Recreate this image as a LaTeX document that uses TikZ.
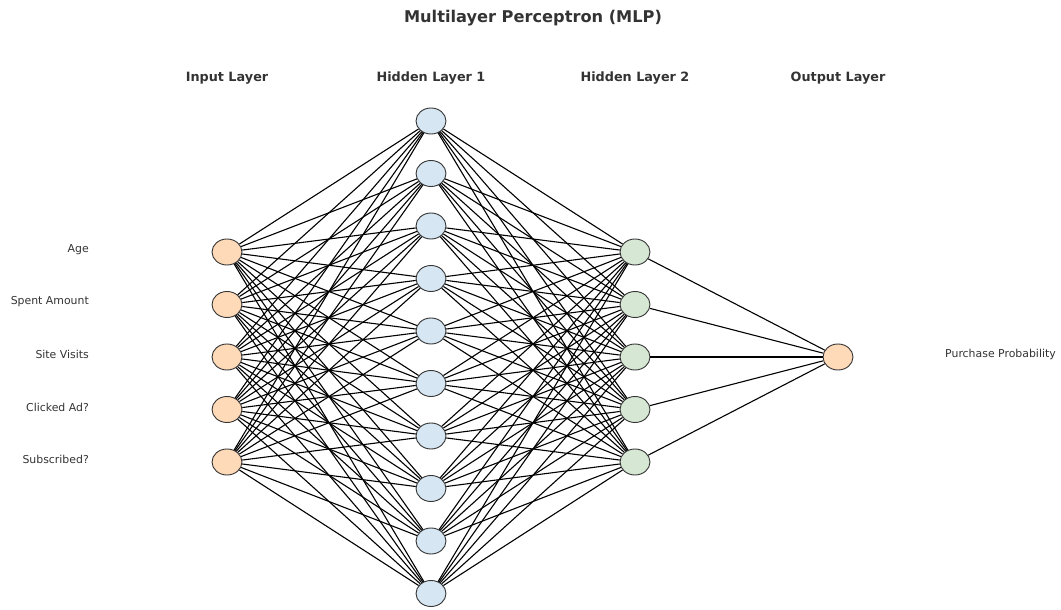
\documentclass[tikz,border=0pt]{standalone}
\usepackage{fontspec}
\setmainfont{DejaVu Sans}
\usetikzlibrary{shapes.geometric}
\definecolor{inpeach}{RGB}{255,218,185}
\definecolor{hidblue}{RGB}{214,230,242}
\definecolor{hidgreen}{RGB}{214,232,212}
\definecolor{textgray}{RGB}{51,51,51}
\tikzset{
  neuron/.style={ellipse, draw=black!80, line width=0.9pt, minimum width=30pt, minimum height=26pt, inner sep=0pt},
  innode/.style={neuron, fill=inpeach},
  h1node/.style={neuron, fill=hidblue},
  h2node/.style={neuron, fill=hidgreen},
  outnode/.style={neuron, fill=inpeach},
  wire/.style={draw=black, line width=1.1pt},
  heading/.style={font=\fontsize{12.8}{15}\selectfont\bfseries, text=textgray},
  feat/.style={font=\fontsize{10.9}{13}\selectfont, text=textgray, inner sep=0pt},
}
\begin{document}
\begin{tikzpicture}[x=1pt,y=-1pt]
\useasboundingbox (0,0) rectangle (1061,610);
% title and layer headings
\node[font=\fontsize{16.2}{19}\selectfont\bfseries, text=textgray] (title) at (533,18.5) {Multilayer Perceptron (MLP)};
\node[heading] (hin) at (227,78.5) {Input Layer};
\node[heading] (hh1) at (431,78.5) {Hidden Layer 1};
\node[heading] (hh2) at (635,78.5) {Hidden Layer 2};
\node[heading] (hout) at (838,78.5) {Output Layer};
% neurons
\foreach \i in {1,...,5} {
  \node[innode] (i\i) at (227,{252+52.5*(\i-1)}) {};
  \node[h2node] (b\i) at (635,{252+52.5*(\i-1)}) {};
}
\foreach \j in {1,...,10} {
  \node[h1node] (a\j) at (431,{121+52.5*(\j-1)}) {};
}
\node[outnode] (o) at (838,357) {};
% connections
\foreach \i in {1,...,5} {
  \foreach \j in {1,...,10} {
    \draw[wire] (i\i) -- (a\j);
    \draw[wire] (a\j) -- (b\i);
  }
  \draw[wire] (b\i) -- (o);
}
% feature labels
\node[feat, anchor=east] (l1) at (89,249.5) {Age};
\node[feat, anchor=east] (l2) at (89,302) {Spent Amount};
\node[feat, anchor=east] (l3) at (89,354.5) {Site Visits};
\node[feat, anchor=east] (l4) at (89,407) {Clicked Ad?};
\node[feat, anchor=east] (l5) at (89,459.5) {Subscribed?};
\node[feat, anchor=west] (lo) at (945,354.5) {Purchase Probability};
\end{tikzpicture}
\end{document}
